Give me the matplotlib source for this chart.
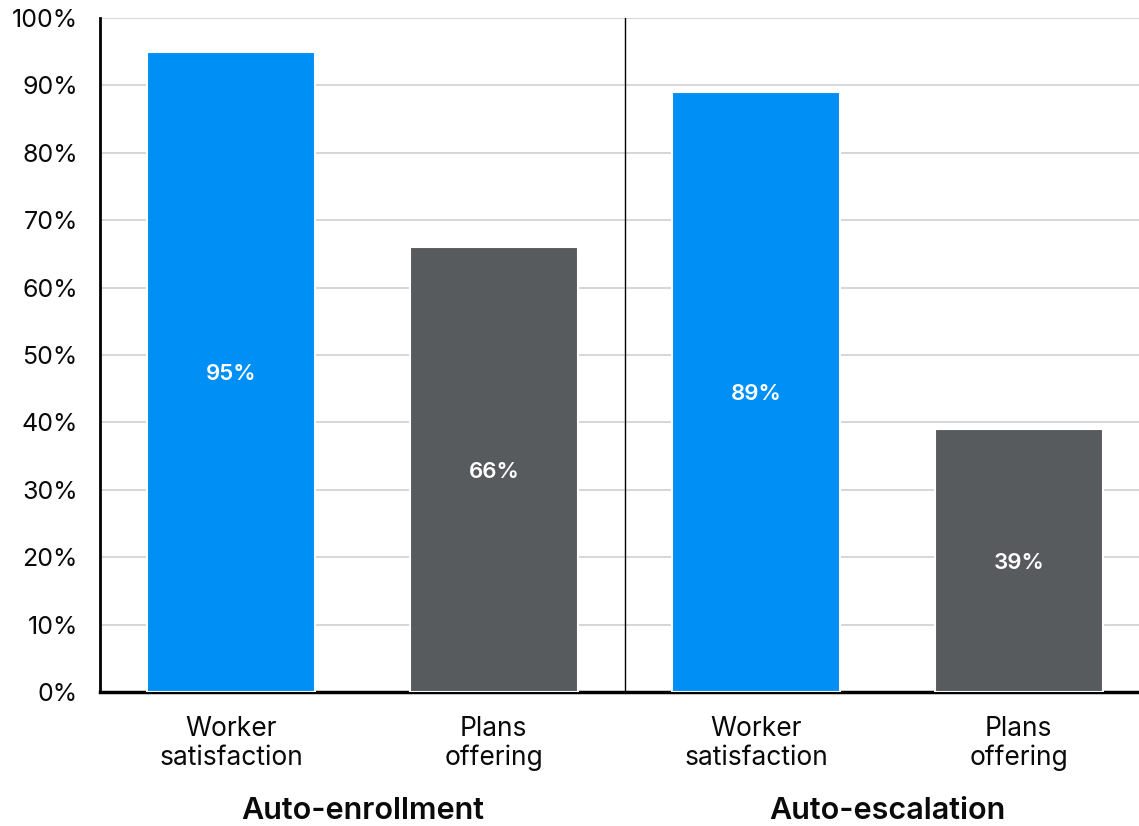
import matplotlib.pyplot as plt

categories = ["Worker\nsatisfaction", "Plans\noffering", "Worker\nsatisfaction", "Plans\noffering"]
groups = ["Auto-enrollment", "Auto-escalation"]
values = [95, 66, 89, 39]
colors = ["#008ff5", "#585b5e", "#008ff5", "#585b5e"]
yticks = [0, 10, 20, 30, 40, 50, 60, 70, 80, 90, 100]

plt.rcParams['font.family'] = ['Inter', 'DejaVu Sans']

fig = plt.figure(figsize=(11.39, 8.26), dpi=100)
ax = fig.add_axes([100 / 1139, 134 / 826, 1039 / 1139, 674 / 826])

x = list(range(len(values)))
bars = ax.bar(x, values, width=0.64, color=colors, edgecolor="white", linewidth=1.5, zorder=3)

for rect, v in zip(bars, values):
    ax.text(rect.get_x() + rect.get_width() / 2, v / 2, f"{v}%",
            ha="center", va="center_baseline", color="white", fontsize=16,
            fontweight="semibold", zorder=4)

ax.set_xlim(-0.5, 3.458)
ax.set_ylim(0, 100)
ax.set_yticks(yticks)
ax.set_yticklabels([f"{t}%" for t in yticks], fontsize=18, color="#0a0a0a")
ax.yaxis.grid(True, color="#d0d0d0", linewidth=1.2, zorder=0)
ax.set_axisbelow(True)
ax.tick_params(axis="y", length=0, pad=16)
ax.tick_params(axis="x", length=0, pad=17)
ax.set_xticks(x)
ax.set_xticklabels(categories, fontsize=19, color="#0a0a0a", linespacing=1.15)

for side in ["top", "right"]:
    ax.spines[side].set_visible(False)
ax.spines["left"].set_linewidth(2)
ax.spines["bottom"].set_linewidth(2.5)

# divider between the two groups
ax.axvline(1.5, color="black", linewidth=1, zorder=2)

for i, g in enumerate(groups):
    ax.text(0.5 + 2 * i, -17.6, g, ha="center", va="center",
            fontsize=22, fontweight="semibold", color="#0a0a0a")

fig.savefig("out.png", dpi=100)
